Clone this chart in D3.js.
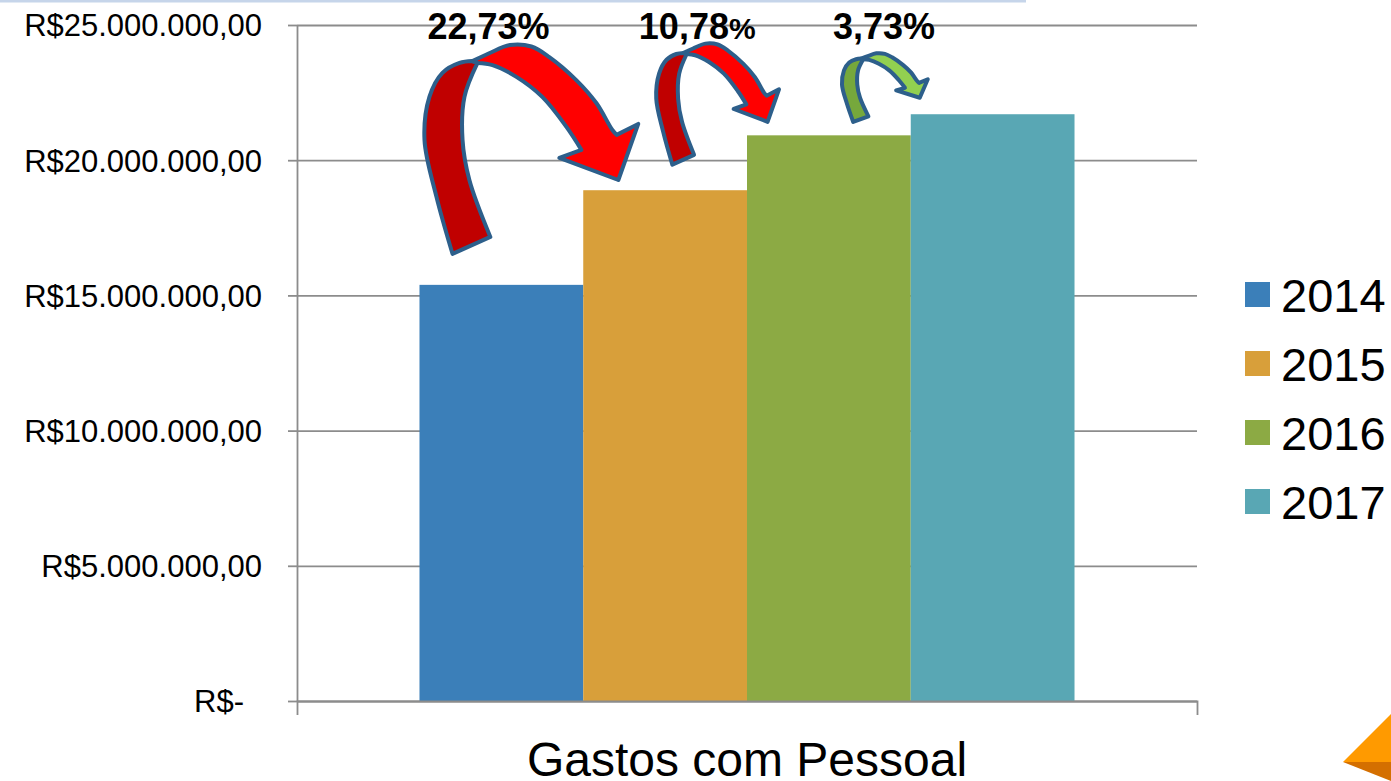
<!DOCTYPE html>
<html>
<head>
<meta charset="utf-8">
<script src="https://cdn.jsdelivr.net/npm/d3@7"></script>
<style>
  html, body { margin: 0; padding: 0; background: #fff; }
  svg { display: block; font-family: "Liberation Sans", Arial, sans-serif; }
</style>
</head>
<body>
<div id="chart"></div>
<script>
// data
const category = "Gastos com Pessoal";
const years = ["2014", "2015", "2016", "2017"];
const spending = [15390000, 18890000, 20920000, 21700000];
const growthLabels = ["22,73%", "10,78%", "3,73%"];
const yTicks = [0, 5000000, 10000000, 15000000, 20000000, 25000000];
const colors = ["#3b7fb9", "#d89f3a", "#8caa44", "#59a7b4"];

// curved arrow shape, unit box (u right, v down)
const darkOuter = [[.131, .995], [.056, .725], [0, .455], [.023, .251], [.084, .137], [.164, .090], [.224, .081]];
const darkInner = [[.248, .090], [.187, .251], [.178, .455], [.210, .645], [.308, .915]];
const brightOuter = [[.224, .081], [.30, .045], [.40, .005], [.50, .012], [.584, .062], [.710, .171], [.804, .280], [.879, .408], [.899, .431]];
const brightHead = [[1.0, .379], [.907, .645], [.631, .540], [.734, .502]];
const brightInner = [[.734, .502], [.664, .393], [.551, .251], [.430, .156], [.318, .100], [.248, .090]];

// arrow placement relative to the bars
const arrowLayout = [
  { dx0: 5, dx1: 55, top: 44, gap: 30, labelDx: 64, dark: "#c00000", bright: "#ff0000" },
  { dx0: 73, dx1: 32, top: 43, gap: 25, labelDx: 41, dark: "#c00000", bright: "#ff0000" },
  { dx0: 95, dx1: 17, top: 53, gap: 13, labelDx: 42, dark: "#76a83c", bright: "#92d050" }
];

const width = 1391, height = 781;
const margin = { top: 25, right: 194, bottom: 80, left: 297 };

const svg = d3.select("#chart").append("svg")
  .attr("width", width)
  .attr("height", height);

// thin band along the top edge
svg.append("rect").attr("x", 0).attr("y", 0).attr("width", 1026).attr("height", 2.5).attr("fill", "#c6d5ea");

const x = d3.scaleBand()
  .domain([category])
  .range([margin.left, width - margin.right])
  .paddingInner(0)
  .paddingOuter(0.187);

const xYear = d3.scaleBand()
  .domain(years)
  .range([x(category), x(category) + x.bandwidth()]);

const y = d3.scaleLinear()
  .domain([0, 25000000])
  .range([height - margin.bottom, margin.top]);

const br = d3.formatLocale({ decimal: ",", thousands: ".", grouping: [3], currency: ["R$", ""] });
const fmt = br.format("$,.2f");

// grid lines
svg.append("g")
  .attr("transform", "translate(" + margin.left + ",0)")
  .call(d3.axisLeft(y).tickValues(yTicks).tickSize(-(width - margin.right - margin.left)).tickFormat(""))
  .call(g => g.select(".domain").remove())
  .call(g => g.selectAll("line").attr("stroke", "#8c8c8c").attr("stroke-width", 1.8));

// y axis
const yAxis = svg.append("g")
  .attr("transform", "translate(" + margin.left + ",0)")
  .call(d3.axisLeft(y).tickValues(yTicks).tickSizeInner(9).tickSizeOuter(0).tickPadding(26)
    .tickFormat(d => d === 0 ? "R$-" : fmt(d)));
yAxis.select(".domain").attr("stroke", "#8c8c8c").attr("stroke-width", 1.8);
yAxis.selectAll("line").attr("stroke", "#8c8c8c").attr("stroke-width", 1.8);
yAxis.selectAll("text")
  .attr("fill", "#000")
  .style("font-size", "31px")
  .attr("dy", "0.35em")
  .filter(d => d === 0).attr("dx", -18);

// bars
svg.append("g").selectAll("rect")
  .data(years)
  .enter()
  .append("rect")
  .attr("x", d => xYear(d))
  .attr("width", xYear.bandwidth())
  .attr("y", (d, i) => y(spending[i]))
  .attr("height", (d, i) => y(0) - y(spending[i]))
  .attr("fill", (d, i) => colors[i]);

// x axis
const xAxis = svg.append("g")
  .attr("transform", "translate(0," + y(0) + ")")
  .call(d3.axisBottom(x).tickSizeInner(0).tickSizeOuter(14).tickPadding(41));
xAxis.select(".domain").attr("stroke", "#8c8c8c").attr("stroke-width", 1.8).attr("fill", "none");
xAxis.selectAll("text").attr("fill", "#000").style("font-size", "48px");

// legend
const legend = svg.append("g").selectAll("g")
  .data(years)
  .enter()
  .append("g")
  .attr("transform", (d, i) => "translate(1245," + (282 + i * 69) + ")");
legend.append("rect").attr("width", 25).attr("height", 25).attr("fill", (d, i) => colors[i]);
legend.append("text")
  .attr("x", 36)
  .attr("y", 30)
  .style("font-size", "47px")
  .attr("fill", "#000")
  .text(d => d);

// curved growth arrows
const curve = d3.line().curve(d3.curveCatmullRom.alpha(0.5));
function pathFrom(segments, box) {
  const map = p => [box.x0 + p[0] * (box.x1 - box.x0), box.y0 + p[1] * (box.y1 - box.y0)];
  let d = "";
  segments.forEach((s, k) => {
    const pts = s.pts.map(map);
    let part = s.curved ? curve(pts) : "M" + pts.map(p => p.join(",")).join("L");
    if (k > 0) part = "L" + part.slice(1);
    d += part;
  });
  return d + "Z";
}

arrowLayout.forEach((a, i) => {
  const box = {
    x0: xYear(years[i]) + a.dx0,
    x1: xYear(years[i + 1]) + a.dx1,
    y0: a.top,
    y1: y(spending[i]) - a.gap
  };
  const g = svg.append("g")
    .attr("stroke", "#2d5f8b")
    .attr("stroke-width", 4)
    .attr("stroke-linejoin", "round");
  g.append("path")
    .attr("fill", a.dark)
    .attr("d", pathFrom([{ pts: darkOuter, curved: true }, { pts: darkInner, curved: true }], box));
  g.append("path")
    .attr("fill", a.bright)
    .attr("d", pathFrom([
      { pts: brightOuter, curved: true },
      { pts: brightHead, curved: false },
      { pts: brightInner, curved: true }
    ], box));

  const label = svg.append("text")
    .attr("x", box.x0 + a.labelDx)
    .attr("y", 39)
    .attr("text-anchor", "middle")
    .style("font-size", "36px")
    .style("font-weight", "bold")
    .attr("fill", "#000");
  const txt = growthLabels[i];
  if (i === 1) {
    label.append("tspan").text(txt.slice(0, -1));
    label.append("tspan").style("font-size", "30px").text("%");
  } else {
    label.text(txt);
  }
});

// corner decoration
svg.append("path").attr("d", "M1343,762L1391,714L1391,762Z").attr("fill", "#ff9a00");
svg.append("path").attr("d", "M1343,762L1391,762L1391,781Z").attr("fill", "#d46f00");
</script>
</body>
</html>
